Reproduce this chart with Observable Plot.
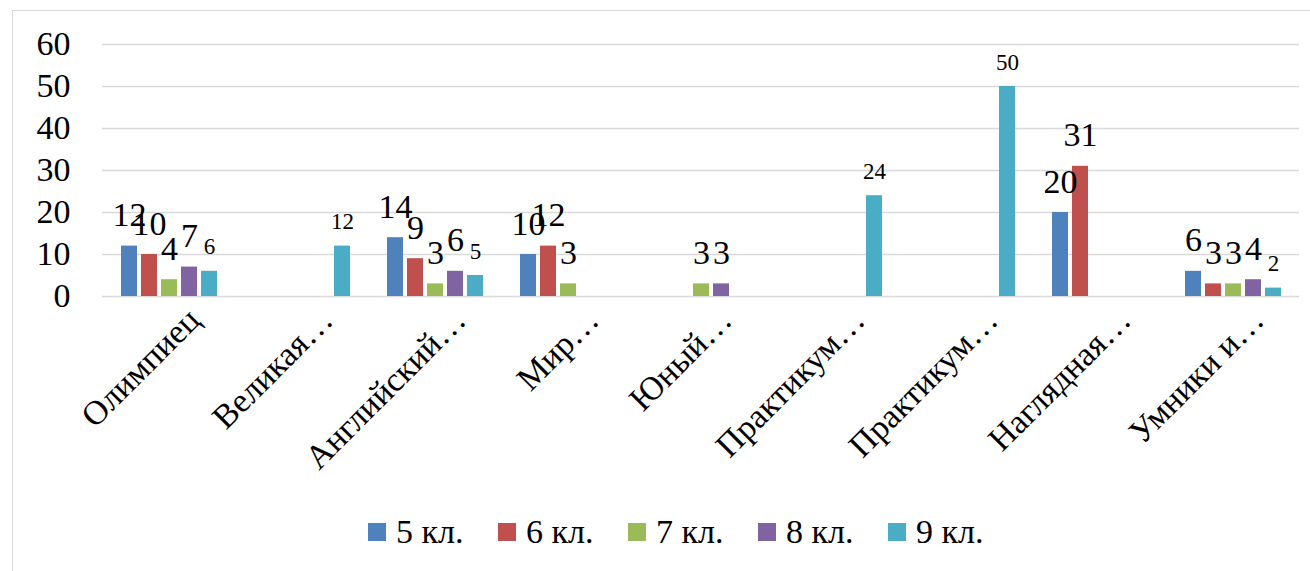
<!DOCTYPE html>
<html><head><meta charset="utf-8">
<script src="https://cdn.jsdelivr.net/npm/d3@7"></script>
<script src="https://cdn.jsdelivr.net/npm/@observablehq/plot@0.6"></script>
<style>
html,body{margin:0;padding:0;background:#fff;overflow:hidden;width:1310px;height:571px;position:relative}
#frame{position:absolute;left:12px;top:10px;width:1400px;height:700px;border:1.5px solid #d9d9d9;box-sizing:border-box}
#chart{position:absolute;left:0;top:0}
#legend{position:absolute;left:368px;top:515px;display:flex;font-family:"Liberation Serif",Tinos,"Times New Roman",Times,"Nimbus Roman","DejaVu Serif","Noto Serif",FreeSerif,serif;font-size:34px;line-height:34px;color:#000}
.item{display:flex;align-items:center;width:130px;white-space:nowrap}
.sw{width:18px;height:18px;margin-right:10px;flex:none}
</style></head><body>
<div id="frame"></div><div id="chart"></div><div id="legend"></div>
<script>
const categories = ["Олимпиец","Великая…","Английский…","Мир…","Юный…","Практикум…","Практикум…","Наглядная…","Умники и…"];
const series = ["5 кл.","6 кл.","7 кл.","8 кл.","9 кл."];
const colors = ["#4F81BD","#C0504D","#9BBB59","#8064A2","#4BACC6"];
const v5 = [12,null,14,10,null,null,null,20,6];
const v6 = [10,null,9,12,null,null,null,31,3];
const v7 = [4,null,3,3,3,null,null,null,3];
const v8 = [7,null,6,null,3,null,null,null,4];
const v9 = [6,12,5,null,null,24,50,null,2];
const yTicks = [0,10,20,30,40,50,60];

const FONT = '"Liberation Serif",Tinos,"Times New Roman",Times,"Nimbus Roman","DejaVu Serif","Noto Serif",FreeSerif,serif';
const seriesValues = [v5,v6,v7,v8,v9];
const data = [];
categories.forEach((c,i)=>{
  seriesValues.forEach((vals,s)=>{
    if (vals[i] != null) data.push({cat:i, series:series[s], value:vals[i]});
  });
});
const big = data.filter(d=>d.series!=="9 кл.");
const small = data.filter(d=>d.series==="9 кл.");

const chart = Plot.plot({
  width:1310, height:505,
  marginLeft:99, marginRight:8, marginTop:44, marginBottom:209,
  style:{fontFamily:FONT, fontSize:"34px", color:"#000", background:"transparent", overflow:"visible"},
  fx:{domain:d3.range(categories.length), padding:0, axis:null},
  x:{domain:series, paddingInner:0.22, paddingOuter:0.87, axis:null},
  y:{domain:[0,60], axis:null},
  color:{domain:series, range:colors},
  marks:[
    Plot.gridY(yTicks, {stroke:"#d9d9d9", strokeOpacity:1, strokeWidth:1.5}),
    Plot.axisY(yTicks, {tickSize:0, tickPadding:32, fontSize:34, fontFamily:FONT, label:null}),
    Plot.axisFx({anchor:"bottom", tickRotate:-45, tickSize:0, tickPadding:18, dx:25, fontSize:34, fontFamily:FONT, tickFormat:i=>categories[i], label:null}),
    Plot.barY(data, {fx:"cat", x:"series", y:"value", fill:"series"}),
    Plot.text(big, {fx:"cat", x:"series", y:"value", text:"value", dy:-20, lineAnchor:"bottom", fontSize:34, fontFamily:FONT, fill:"#000"}),
    Plot.text(small, {fx:"cat", x:"series", y:"value", text:"value", dy:-17, lineAnchor:"bottom", fontSize:23, fontFamily:FONT, fill:"#000"})
  ]
});
document.getElementById("chart").appendChild(chart);

const legend = document.getElementById("legend");
series.forEach((s,i)=>{
  const it = document.createElement("div"); it.className="item";
  const sw = document.createElement("div"); sw.className="sw"; sw.style.background=colors[i];
  const tx = document.createElement("span"); tx.textContent=s;
  it.appendChild(sw); it.appendChild(tx); legend.appendChild(it);
});
</script>
</body></html>
